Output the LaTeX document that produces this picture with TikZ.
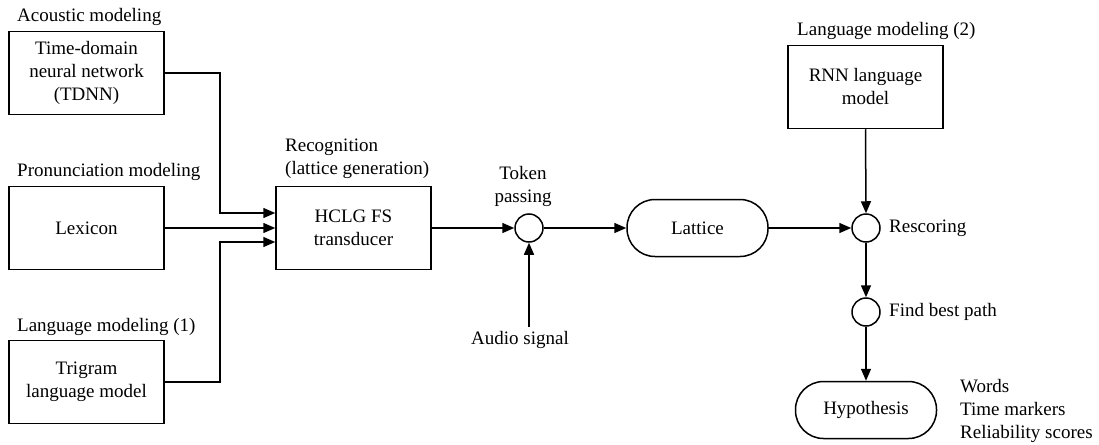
\documentclass[tikz,border=0pt]{standalone}
\usepackage{fontspec}
\setmainfont{Liberation Serif}
\usetikzlibrary{arrows.meta}
\begin{document}
\begin{tikzpicture}[x=1pt,y=-1pt,
  every node/.style={font=\fontsize{19}{23}\selectfont},
  box/.style={draw, line width=1.5pt, minimum width=155pt, minimum height=83pt, align=center, inner sep=2pt},
  circ/.style={draw, circle, line width=1.5pt, minimum size=28pt, inner sep=0pt},
  pill/.style={draw, line width=1.5pt, rounded corners=28pt, minimum width=141pt, minimum height=57pt},
  lbl/.style={anchor=west, inner sep=0pt, align=left},
  arr/.style={line width=1.5pt, -{Triangle[length=12pt,width=10pt]}}
]
\useasboundingbox (0,0) rectangle (1099,444);
% left boxes
\node[box] (tdnn) at (86.5,73) {Time-domain\\neural network\\(TDNN)};
\node[box] (lex) at (86.5,228) {Lexicon};
\node[box] (tri) at (86.5,382) {Trigram\\language model};
\node[lbl] (lacou) at (17,17) {Acoustic modeling};
\node[lbl] (lpron) at (17,172) {Pronunciation modeling};
\node[lbl] (llm1) at (17,327) {Language modeling (1)};
% recognition
\node[box] (hclg) at (353.5,228) {HCLG FS\\transducer};
\node[lbl] (lrec) at (285,158.5) {Recognition\\(lattice generation)};
% token passing
\node[circ] (tok) at (529,228) {};
\node[align=center, inner sep=0pt] (ltok) at (523,186) {Token\\passing};
\coordinate (audioend) at (529,327);
\node[inner sep=0pt] (laudio) at (520,340) {Audio signal};
% lattice
\node[pill] (lat) at (697.5,228) {Lattice};
% right part
\node[box] (rnn) at (865.5,87) {RNN language\\model};
\node[lbl] (llm2) at (797,31) {Language modeling (2)};
\node[circ] (resc) at (866,228) {};
\node[lbl] (lresc) at (889,228) {Rescoring};
\node[circ] (best) at (866,312) {};
\node[lbl] (lbest) at (889,312) {Find best path};
\node[pill] (hyp) at (866,410) {Hypothesis};
\node[lbl] (lhyp) at (960,411) {Words\\Time markers\\Reliability scores};
% connectors
\draw[arr] (tdnn.east) -- ++(55,0) |- ([yshift=15pt]hclg.west);
\draw[arr] (lex.east) -- (hclg.west);
\draw[arr] (tri.east) -- ++(55,0) |- ([yshift=-14pt]hclg.west);
\draw[arr] (hclg.east) -- (tok.west);
\draw[arr] (audioend) -- (tok.south);
\draw[arr] (tok.east) -- (lat.west);
\draw[arr] (lat.east) -- (resc.west);
\draw[arr] (rnn.south) -- (resc.north);
\draw[arr] (resc.south) -- (best.north);
\draw[arr] (best.south) -- (hyp.north);
\end{tikzpicture}
\end{document}
